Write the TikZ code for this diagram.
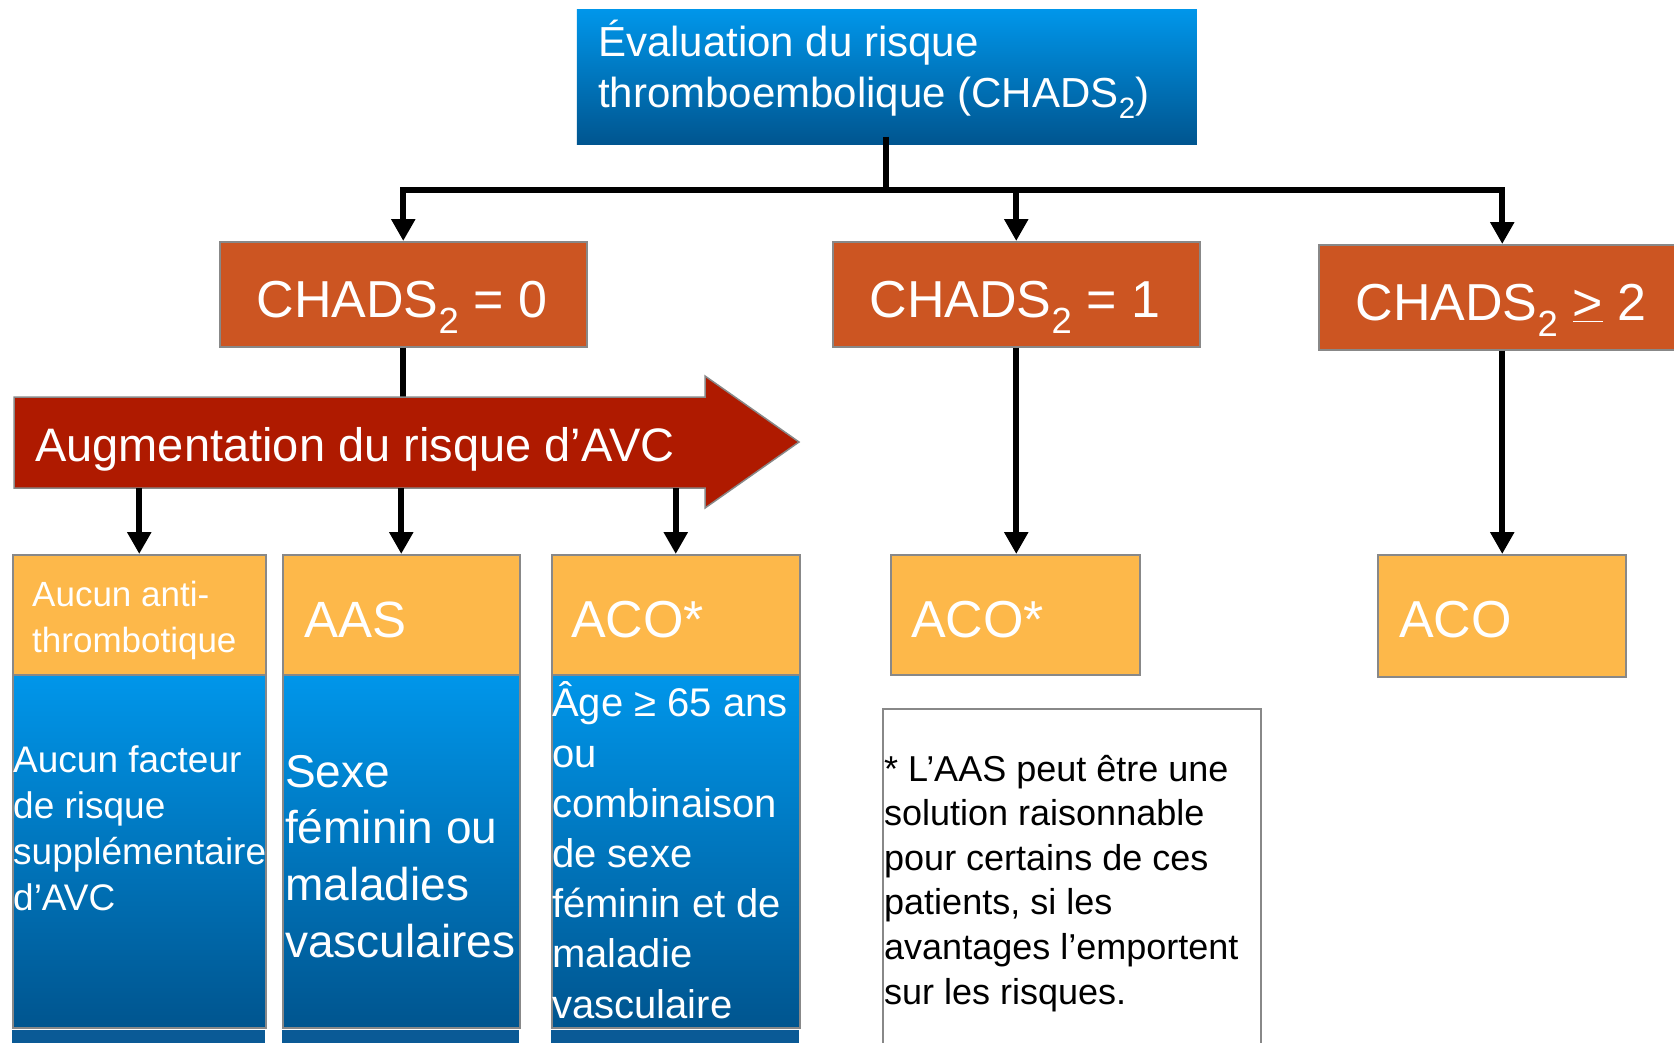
\documentclass[tikz,border=0pt]{standalone}
\usepackage{fontspec}
\setmainfont{Liberation Sans}
\usetikzlibrary{arrows.meta}
\definecolor{topblue}{HTML}{0096EA}
\definecolor{botblue}{HTML}{00558F}
\definecolor{stripblue}{HTML}{0A5A96}
\definecolor{chadsfill}{HTML}{CC5522}
\definecolor{avcred}{HTML}{AF1A00}
\definecolor{acofill}{HTML}{FDB84A}
\definecolor{edgegray}{HTML}{888888}
\begin{document}
\begin{tikzpicture}[x=1pt,y=-1pt,
  box/.style={draw=edgegray, line width=1.5pt, rectangle, inner sep=0pt, anchor=north west},
  bluebox/.style={box, top color=topblue, bottom color=botblue},
  chadsbox/.style={box, fill=chadsfill, minimum width=367pt, minimum height=105pt},
  acobox/.style={box, fill=acofill},
  wtext/.style={text=white, inner sep=0pt, anchor=base west, align=left},
  ctext/.style={text=white, inner sep=0pt, anchor=base, font=\fontsize{52}{60}\selectfont},
  link/.style={line width=6pt},
  arr/.style={line width=6pt, -{Triangle[width=23pt,length=22pt]}},
]
\clip (0,0) rectangle (1674,1042);
\fill[white] (0,0) rectangle (1674,1042);

% top box
\node[bluebox, draw=none, minimum width=620pt, minimum height=135pt] (top) at (576,9) {};
% multi-line nodes: anchor base = baseline of last line
\node[wtext, font=\fontsize{42}{51}\selectfont] (toptext) at (598,107) {Évaluation du risque\\thromboembolique (CHADS\textsubscript{2})};

% CHADS boxes
\node[chadsbox] (c0) at (219,241) {};
\node[chadsbox] (c1) at (832,241) {};
\node[chadsbox] (c2) at (1318,244) {};
\node[ctext] (c0t) at (402,317) {CHADS\textsubscript{2} = 0};
\node[ctext] (c1t) at (1015,317) {CHADS\textsubscript{2} = 1};
\node[ctext] (c2t) at (1501,320) {CHADS\textsubscript{2} \underline{>} 2};

% connectors from top
\coordinate (hub) at (886,190);
\draw[link] ([yshift=9pt]hub |- top.south) -- (hub);
\draw[arr] (hub) -| (c0.north);
\draw[arr] (hub) -| (c1.north);
\draw[arr] (hub) -| (c2.north);

% line into red arrow
\coordinate (avctop) at (0,397);
\coordinate (avcbot) at (0,488);
\draw[link] (c0.south) -- (c0.south |- avctop);

% red arrow
\draw[draw=edgegray, line width=1.5pt, fill=avcred] (14,397) -- (705,397) -- (705,376) -- (799,442) -- (705,508) -- (705,488) -- (14,488) -- cycle;
\node[wtext, font=\fontsize{47}{56}\selectfont] (avct) at (35,461) {Augmentation du risque d’AVC};

% orange boxes
\node[acobox, minimum width=253pt, minimum height=120pt] (o1) at (12,554) {};
\node[acobox, minimum width=237pt, minimum height=120pt] (o2) at (282,554) {};
\node[acobox, minimum width=248pt, minimum height=120pt] (o3) at (551,554) {};
\node[acobox, minimum width=249pt, minimum height=120pt] (o4) at (890,554) {};
\node[acobox, minimum width=248pt, minimum height=122pt] (o5) at (1377,554) {};
\node[wtext, font=\fontsize{35}{46}\selectfont] (o1t) at (32,652) {Aucun anti-\\thrombotique};
\node[wtext, font=\fontsize{51}{60}\selectfont] (o2t) at (304,637) {AAS};
\node[wtext, font=\fontsize{52}{60}\selectfont] (o3t) at (571,637) {ACO*};
\node[wtext, font=\fontsize{52}{60}\selectfont] (o4t) at (911,637) {ACO*};
\node[wtext, font=\fontsize{52}{60}\selectfont] (o5t) at (1399,637) {ACO};

% arrows to orange boxes
\draw[arr] (o1.north |- avcbot) -- (o1.north);
\draw[arr] (o2.north |- avcbot) -- (o2.north);
\draw[arr] (o3.north |- avcbot) -- (o3.north);
\draw[arr] (c1.south) -- (c1.south |- o4.north);
\draw[arr] (c2.south) -- (c2.south |- o5.north);

% blue boxes
\node[bluebox, minimum width=253pt, minimum height=353pt] (b1) at (12,674) {};
\node[bluebox, minimum width=237pt, minimum height=353pt] (b2) at (282,674) {};
\node[bluebox, minimum width=248pt, minimum height=353pt] (b3) at (551,674) {};
\fill[stripblue] (12,1030) rectangle (265,1050);
\fill[stripblue] (282,1030) rectangle (519,1050);
\fill[stripblue] (551,1030) rectangle (799,1050);
\node[wtext, font=\fontsize{37}{46}\selectfont] (b1t) at (13,910) {Aucun facteur\\de risque\\supplémentaire\\d’AVC};
\node[wtext, font=\fontsize{46}{56.6}\selectfont] (b2t) at (285,957) {Sexe\\féminin ou\\maladies\\vasculaires};
\node[wtext, font=\fontsize{40}{50.2}\selectfont] (b3t) at (552,1018) {Âge ≥ 65 ans\\ou\\combinaison\\de sexe\\féminin et de\\maladie\\vasculaire};

% note
\node[box, fill=white, minimum width=378pt, minimum height=350pt] (note) at (882,708) {};
\node[inner sep=0pt, anchor=base west, align=left, font=\fontsize{36}{44.6}\selectfont] (notet) at (884,1004) {* L’AAS peut être une\\solution raisonnable\\pour certains de ces\\patients, si les\\avantages l’emportent\\sur les risques.};
\end{tikzpicture}
\end{document}
